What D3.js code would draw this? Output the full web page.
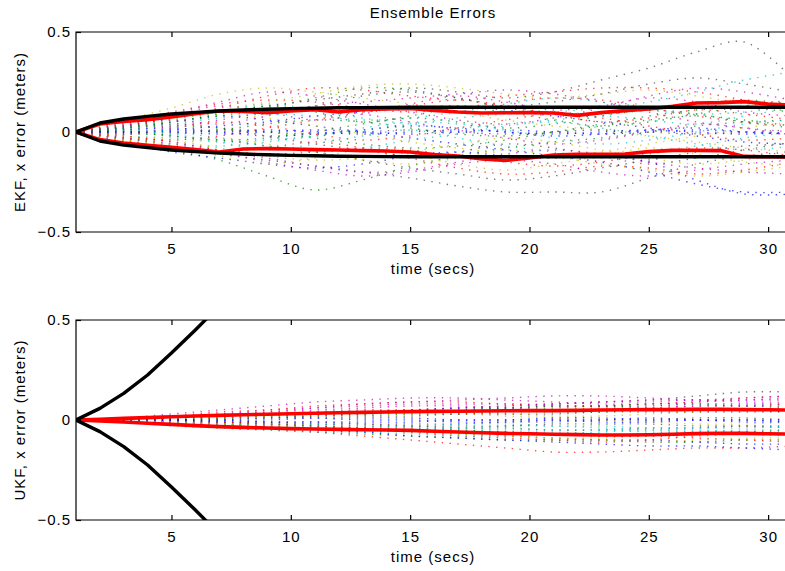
<!DOCTYPE html>
<html><head><meta charset="utf-8">
<script src="https://cdn.jsdelivr.net/npm/d3@7"></script>
<style>
body{margin:0;background:#fff}
text{font-family:"Liberation Sans",Arial,Helvetica,sans-serif;font-size:15px;letter-spacing:1px;fill:#000}
</style>
</head><body>
<svg id="chart" width="785" height="571"></svg>
<script>
// ---------- data ----------
const stdTimes = [1,2,3,4,5,6,7,8,9,10,11,12,13,14,15,16,17,18,19,20,21,22,23,24,25,26,27,28,29,30,31];
const trajTimes = [1,3,5,7,9,11,13,15,17,19,21,23,25,27,29,31];

const ekfRedUpper = [0,0.040,0.053,0.062,0.075,0.092,0.105,0.103,0.097,0.105,0.112,0.100,0.112,0.115,0.118,0.108,0.100,0.095,0.096,0.097,0.095,0.083,0.097,0.107,0.115,0.128,0.145,0.147,0.152,0.140,0.135];
const ekfRedLower = [0,-0.038,-0.055,-0.067,-0.077,-0.088,-0.100,-0.085,-0.083,-0.085,-0.088,-0.090,-0.093,-0.095,-0.100,-0.113,-0.120,-0.135,-0.142,-0.130,-0.115,-0.112,-0.112,-0.110,-0.098,-0.092,-0.092,-0.093,-0.122,-0.124,-0.125];
const ekfBlack = [0,0.045,0.065,0.078,0.090,0.098,0.105,0.110,0.114,0.117,0.119,0.121,0.122,0.123,0.124,0.124,0.124,0.124,0.124,0.124,0.124,0.124,0.124,0.124,0.124,0.124,0.124,0.124,0.124,0.124,0.124];

const ukfRedUpper = [0,0.004,0.008,0.012,0.016,0.020,0.023,0.026,0.029,0.031,0.034,0.036,0.038,0.040,0.042,0.043,0.044,0.045,0.046,0.047,0.047,0.048,0.050,0.051,0.052,0.052,0.053,0.053,0.052,0.051,0.050];
const ukfRedLower = [0,-0.005,-0.010,-0.016,-0.022,-0.028,-0.033,-0.037,-0.040,-0.043,-0.045,-0.047,-0.049,-0.050,-0.052,-0.056,-0.060,-0.064,-0.067,-0.069,-0.071,-0.073,-0.075,-0.075,-0.074,-0.071,-0.068,-0.066,-0.067,-0.069,-0.070];
const ukfBlack = [0,0.058,0.133,0.225,0.335,0.450,0.570,0.700];

const ekfEnsemble = [
 [0,0.02,0.05,0.08,0.06,0.03,0.00,-0.03,-0.06,-0.09,-0.12,-0.15,-0.20,-0.26,-0.30,-0.30],
 [0,-0.04,-0.09,-0.14,-0.22,-0.29,-0.24,-0.17,-0.12,-0.08,-0.05,-0.03,0.00,0.03,0.05,0.06],
 [0,0.05,0.10,0.14,0.16,0.15,0.12,0.10,0.12,0.15,0.17,0.16,0.12,0.08,0.05,0.03],
 [0,-0.02,-0.03,-0.05,-0.04,-0.02,0.01,0.04,0.07,0.09,0.10,0.12,0.15,0.20,0.26,0.30],
 [0,0.04,0.09,0.15,0.20,0.18,0.14,0.10,0.06,0.04,0.07,0.12,0.18,0.22,0.20,0.16],
 [0,0.06,0.12,0.19,0.22,0.20,0.17,0.14,0.10,0.06,0.03,0.01,-0.02,-0.05,-0.08,-0.10],
 [0,-0.03,-0.07,-0.11,-0.14,-0.17,-0.20,-0.23,-0.27,-0.30,-0.30,-0.30,-0.23,-0.16,-0.12,-0.10],
 [0,-0.05,-0.10,-0.13,-0.16,-0.18,-0.16,-0.12,-0.10,-0.12,-0.13,-0.12,-0.15,-0.24,-0.31,-0.31],
 [0,0.03,0.05,0.08,0.12,0.17,0.22,0.21,0.17,0.12,0.10,0.09,0.11,0.14,0.16,0.14],
 [0,-0.04,-0.08,-0.10,-0.08,-0.05,-0.08,-0.13,-0.18,-0.21,-0.20,-0.17,-0.18,-0.21,-0.19,-0.15],
 [0,0.02,0.06,0.10,0.14,0.11,0.07,0.04,0.02,0.04,0.06,0.08,0.06,0.04,0.08,0.12],
 [0,-0.02,-0.05,-0.09,-0.13,-0.17,-0.20,-0.19,-0.15,-0.11,-0.09,-0.11,-0.15,-0.18,-0.20,-0.21],
 [0,0.04,0.07,0.09,0.07,0.03,-0.01,-0.05,-0.08,-0.11,-0.13,-0.10,-0.06,-0.02,0.02,0.05],
 [0,0.03,0.07,0.10,0.13,0.16,0.19,0.22,0.20,0.17,0.20,0.26,0.32,0.40,0.45,0.27],
 [0,-0.01,0.01,0.03,0.05,0.08,0.10,0.12,0.13,0.11,0.08,0.05,0.02,-0.02,-0.05,-0.06],
 [0,0.02,0.03,0.02,0.00,-0.03,-0.06,-0.08,-0.07,-0.04,0.00,0.04,0.08,0.11,0.12,0.10],
 [0,0.03,0.07,0.12,0.18,0.22,0.21,0.18,0.16,0.18,0.20,0.22,0.22,0.20,0.16,0.12],
 [0,-0.03,-0.06,-0.07,-0.05,-0.02,0.02,0.05,0.04,0.01,-0.03,-0.06,-0.04,0.00,0.04,0.06],
 [0,0.01,0.03,0.06,0.10,0.13,0.15,0.17,0.19,0.21,0.19,0.15,0.10,0.05,0.02,0.00],
 [0,-0.02,-0.04,-0.08,-0.12,-0.14,-0.13,-0.10,-0.06,-0.03,-0.05,-0.09,-0.13,-0.16,-0.14,-0.11],
 [0,0.00,-0.02,-0.04,-0.07,-0.10,-0.14,-0.18,-0.21,-0.24,-0.22,-0.18,-0.14,-0.10,-0.07,-0.06],
 [0,0.01,0.02,0.00,-0.02,-0.01,0.01,0.03,0.02,0.00,-0.02,-0.01,0.01,0.02,0.00,-0.01],
 [0,-0.01,-0.01,0.01,0.04,0.06,0.05,0.02,-0.01,-0.02,0.00,0.03,0.06,0.08,0.06,0.03],
 [0,-0.02,-0.05,-0.09,-0.11,-0.10,-0.08,-0.09,-0.12,-0.15,-0.17,-0.15,-0.11,-0.08,-0.09,-0.12],
 [0,0.02,0.04,0.07,0.09,0.08,0.06,0.07,0.10,0.14,0.17,0.15,0.11,0.09,0.10,0.13],
 [0,-0.03,-0.06,-0.10,-0.15,-0.19,-0.22,-0.20,-0.16,-0.14,-0.16,-0.20,-0.22,-0.19,-0.16,-0.14],
 [0,0.02,0.06,0.11,0.15,0.19,0.23,0.24,0.22,0.19,0.17,0.19,0.21,0.18,0.14,0.10],
 [0,0.00,0.00,0.01,0.00,-0.01,0.00,0.01,0.00,-0.01,0.00,0.01,0.00,-0.01,0.00,0.01],
 [0,0.00,0.01,0.00,0.01,0.00,-0.01,0.00,0.01,0.00,-0.01,0.00,0.01,0.00,-0.01,0.00],
 [0,0.01,-0.02,-0.04,-0.03,0.00,0.04,0.07,0.05,0.02,0.04,0.08,0.11,0.09,0.05,0.02],
 [0,-0.01,0.02,0.05,0.03,-0.01,-0.04,-0.02,0.02,0.06,0.09,0.07,0.03,-0.01,-0.04,-0.03],
 [0,0.02,0.00,-0.03,-0.07,-0.10,-0.08,-0.04,-0.01,0.03,0.05,0.02,-0.02,-0.06,-0.09,-0.07],
 [0,0.03,0.08,0.13,0.10,0.06,0.09,0.14,0.18,0.15,0.11,0.13,0.17,0.15,0.10,0.08],
 [0,-0.02,-0.07,-0.12,-0.16,-0.13,-0.09,-0.11,-0.16,-0.19,-0.16,-0.12,-0.08,-0.11,-0.15,-0.17],
 [0,0.01,0.04,0.02,-0.02,-0.06,-0.09,-0.12,-0.10,-0.06,-0.08,-0.12,-0.16,-0.13,-0.09,-0.05],
 [0,0.00,0.00,-0.01,0.00,0.01,0.00,-0.01,0.00,0.01,0.00,-0.01,0.00,0.01,0.00,-0.01],
 [0,0.02,0.05,0.09,0.13,0.10,0.05,0.08,0.12,0.10,0.06,0.03,0.05,0.09,0.13,0.16],
 [0,-0.03,-0.04,-0.02,0.02,0.06,0.10,0.13,0.16,0.13,0.09,0.05,0.07,0.11,0.09,0.06],
 [0,0.01,-0.01,-0.05,-0.09,-0.06,-0.02,0.01,-0.03,-0.07,-0.10,-0.13,-0.10,-0.07,-0.03,0.00],
 [0,0.04,0.06,0.04,0.08,0.12,0.09,0.05,0.01,-0.03,-0.06,-0.04,0.00,0.04,0.02,-0.02],
 [0,-0.04,-0.06,-0.03,-0.06,-0.10,-0.14,-0.16,-0.13,-0.09,-0.12,-0.16,-0.19,-0.22,-0.20,-0.17],
 [0,0.02,0.07,0.11,0.09,0.13,0.18,0.20,0.17,0.13,0.15,0.19,0.24,0.27,0.24,0.20]
];

const ukfEnsemble = [
 [0,0.00,0.01,0.02,0.03,0.04,0.05,0.05,0.06,0.06,0.07,0.07,0.07,0.08,0.08,0.08],
 [0,-0.01,-0.02,-0.04,-0.05,-0.06,-0.07,-0.08,-0.09,-0.10,-0.10,-0.10,-0.11,-0.11,-0.10,-0.10],
 [0,0.00,-0.01,-0.02,-0.04,-0.06,-0.08,-0.10,-0.12,-0.14,-0.16,-0.16,-0.15,-0.14,-0.14,-0.13],
 [0,-0.01,-0.02,-0.03,-0.03,-0.04,-0.04,-0.05,-0.05,-0.06,-0.06,-0.07,-0.07,-0.06,-0.06,-0.06],
 [0,0.01,0.03,0.05,0.07,0.09,0.10,0.11,0.11,0.10,0.09,0.08,0.08,0.09,0.10,0.11],
 [0,0.00,0.01,0.02,0.03,0.04,0.05,0.05,0.04,0.03,0.02,0.02,0.03,0.04,0.05,0.05],
 [0,0.00,0.01,0.02,0.02,0.03,0.04,0.05,0.06,0.07,0.08,0.09,0.10,0.12,0.14,0.14],
 [0,-0.01,-0.01,-0.02,-0.03,-0.04,-0.05,-0.06,-0.07,-0.08,-0.09,-0.10,-0.10,-0.11,-0.12,-0.12],
 [0,0.00,0.01,0.01,0.02,0.03,0.03,0.04,0.05,0.06,0.06,0.07,0.06,0.05,0.05,0.06],
 [0,0.00,0.00,-0.01,-0.02,-0.03,-0.04,-0.06,-0.08,-0.09,-0.10,-0.11,-0.10,-0.08,-0.07,-0.07],
 [0,-0.01,-0.02,-0.03,-0.04,-0.05,-0.06,-0.07,-0.08,-0.08,-0.07,-0.06,-0.05,-0.05,-0.06,-0.07],
 [0,0.01,0.02,0.03,0.05,0.06,0.07,0.08,0.08,0.08,0.08,0.09,0.09,0.10,0.09,0.09],
 [0,0.00,0.00,0.01,0.01,0.02,0.02,0.03,0.03,0.02,0.01,0.00,-0.01,-0.02,-0.02,-0.01],
 [0,0.00,-0.01,-0.01,-0.02,-0.02,-0.03,-0.03,-0.04,-0.04,-0.05,-0.05,-0.04,-0.04,-0.03,-0.03],
 [0,0.00,0.00,0.00,0.01,0.01,0.00,0.00,-0.01,-0.01,0.00,0.00,0.01,0.00,0.00,-0.01],
 [0,-0.01,-0.01,-0.02,-0.02,-0.03,-0.04,-0.04,-0.05,-0.06,-0.07,-0.08,-0.08,-0.07,-0.06,-0.05],
 [0,0.00,0.01,0.02,0.02,0.03,0.03,0.04,0.04,0.05,0.05,0.06,0.06,0.07,0.07,0.08],
 [0,-0.01,-0.03,-0.04,-0.05,-0.06,-0.06,-0.05,-0.04,-0.03,-0.03,-0.04,-0.05,-0.06,-0.07,-0.08],
 [0,0.00,0.01,0.02,0.04,0.06,0.08,0.09,0.10,0.11,0.12,0.12,0.11,0.10,0.10,0.10],
 [0,0.00,-0.01,-0.02,-0.03,-0.04,-0.05,-0.06,-0.07,-0.08,-0.09,-0.09,-0.08,-0.07,-0.07,-0.08],
 [0,0.00,0.00,-0.01,-0.01,-0.01,-0.02,-0.02,-0.02,-0.01,-0.01,0.00,0.00,0.01,0.01,0.00],
 [0,0.00,-0.01,-0.02,-0.03,-0.05,-0.06,-0.08,-0.09,-0.10,-0.11,-0.12,-0.13,-0.13,-0.14,-0.15],
 [0,0.00,0.01,0.01,0.02,0.02,0.03,0.03,0.03,0.04,0.04,0.04,0.05,0.05,0.05,0.04],
 [0,0.01,0.02,0.04,0.05,0.07,0.08,0.09,0.09,0.08,0.07,0.07,0.08,0.09,0.11,0.12],
 [0,-0.01,-0.02,-0.02,-0.03,-0.03,-0.04,-0.04,-0.04,-0.05,-0.05,-0.05,-0.06,-0.06,-0.05,-0.05],
 [0,0.01,0.02,0.03,0.04,0.05,0.06,0.07,0.07,0.06,0.05,0.05,0.06,0.07,0.07,0.06],
 [0,0.00,0.01,0.01,0.02,0.03,0.04,0.04,0.04,0.05,0.05,0.06,0.06,0.06,0.05,0.05],
 [0,0.00,0.00,-0.01,-0.01,-0.02,-0.02,-0.03,-0.03,-0.03,-0.02,-0.02,-0.02,-0.03,-0.03,-0.04],
 [0,0.00,0.00,0.00,0.00,0.01,0.01,0.01,0.00,0.00,0.00,-0.01,-0.01,0.00,0.00,0.00],
 [0,0.00,0.01,0.02,0.03,0.03,0.04,0.05,0.05,0.06,0.07,0.07,0.08,0.08,0.07,0.07],
 [0,0.00,-0.01,-0.01,-0.02,-0.03,-0.04,-0.05,-0.06,-0.06,-0.07,-0.08,-0.08,-0.09,-0.10,-0.11],
 [0,0.00,-0.01,-0.02,-0.02,-0.02,-0.03,-0.03,-0.02,-0.02,-0.03,-0.03,-0.04,-0.04,-0.04,-0.03],
 [0,0.00,0.01,0.02,0.03,0.04,0.04,0.05,0.06,0.07,0.08,0.09,0.10,0.10,0.11,0.12],
 [0,0.00,-0.01,-0.02,-0.03,-0.04,-0.05,-0.06,-0.07,-0.08,-0.09,-0.10,-0.11,-0.10,-0.09,-0.09],
 [0,0.00,0.00,0.01,0.01,0.02,0.02,0.02,0.03,0.03,0.03,0.04,0.04,0.04,0.04,0.04],
 [0,0.00,0.00,0.00,-0.01,-0.01,-0.01,-0.01,0.00,0.00,0.01,0.01,0.00,0.00,-0.01,-0.01]
];

const traceColors = ["#0000ff","#008000","#ff0000","#00bfbf","#bf00bf","#bfbf00","#404040"];
const xTicks = [5,10,15,20,25,30];
const yTicks = [-0.5,0,0.5];
const yTickLabels = ["\u22120.5","0","0.5"];
const titleText = "Ensemble Errors";
const xLabelText = "time (secs)";
const yLabelTexts = ["EKF, x error (meters)","UKF, x error (meters)"];

// ---------- drawing ----------
const svg = d3.select("#chart");
const panels = [
  {top:32, bottom:232, ens:ekfEnsemble, redU:ekfRedUpper, redL:ekfRedLower, black:ekfBlack, ylab:yLabelTexts[0]},
  {top:320, bottom:520, ens:ukfEnsemble, redU:ukfRedUpper, redL:ukfRedLower, black:ukfBlack, ylab:yLabelTexts[1]}
];
const x = d3.scaleLinear().domain([1,31]).range([76,792]);

svg.append("text").attr("x",433).attr("y",18).attr("text-anchor","middle").text(titleText);

panels.forEach((p,i)=>{
  const y = d3.scaleLinear().domain([-0.5,0.5]).range([p.bottom,p.top]);
  const clipId = "clip"+i;
  svg.append("clipPath").attr("id",clipId).append("rect")
    .attr("x",76).attr("y",p.top).attr("width",716).attr("height",p.bottom-p.top);
  const g = svg.append("g").attr("clip-path",`url(#${clipId})`);

  const trajLine = d3.line().x((d,k)=>x(trajTimes[k])).y(d=>y(d)).curve(d3.curveCatmullRom.alpha(0.5));
  g.selectAll("path.traj").data(p.ens).join("path")
    .attr("class","traj")
    .attr("d",trajLine)
    .attr("fill","none")
    .attr("stroke",(d,k)=>traceColors[k%traceColors.length])
    .attr("stroke-width",1.4)
    .attr("stroke-opacity",0.7)
    .attr("stroke-dasharray","1.4,6.4");

  const stdLine = d3.line().x((d,k)=>x(stdTimes[k])).y(d=>y(d));
  [p.redU,p.redL].forEach(arr=>{
    g.append("path").attr("d",stdLine(arr)).attr("fill","none")
      .attr("stroke","#ff0000").attr("stroke-width",3.6).attr("stroke-linejoin","round");
  });
  [p.black, p.black.map(v=>-v)].forEach(arr=>{
    g.append("path").attr("d",stdLine(arr)).attr("fill","none")
      .attr("stroke","#000").attr("stroke-width",3.4).attr("stroke-linejoin","round");
  });

  // axes
  const xb = svg.append("g").attr("transform",`translate(0,${p.bottom})`)
    .call(d3.axisBottom(x).tickValues(xTicks).tickSize(-5).tickPadding(11).tickFormat(d3.format("d")));
  const xt = svg.append("g").attr("transform",`translate(0,${p.top})`)
    .call(d3.axisTop(x).tickValues(xTicks).tickSize(-5).tickFormat(""));
  const yl = svg.append("g").attr("transform","translate(76,0)")
    .call(d3.axisLeft(y).tickValues(yTicks).tickSize(-5).tickPadding(5).tickFormat((d,k)=>yTickLabels[k]));
  [xb,xt,yl].forEach(a=>{
    a.select(".domain").remove();
    a.selectAll("line").attr("stroke","#000").attr("stroke-width",1.2);
    a.selectAll("text").attr("fill","#000").style("font-size","15px")
      .attr("font-family",null);
  });
  svg.append("path")
    .attr("d",`M792,${p.top}H76V${p.bottom}H792`)
    .attr("fill","none").attr("stroke","#000").attr("stroke-width",1.2);

  svg.append("text").attr("x",433).attr("y",p.bottom+42).attr("text-anchor","middle").text(xLabelText);
  svg.append("text").attr("transform",`translate(25,${(p.top+p.bottom)/2}) rotate(-90)`)
    .attr("text-anchor","middle").text(p.ylab);
});
</script>
</body></html>
